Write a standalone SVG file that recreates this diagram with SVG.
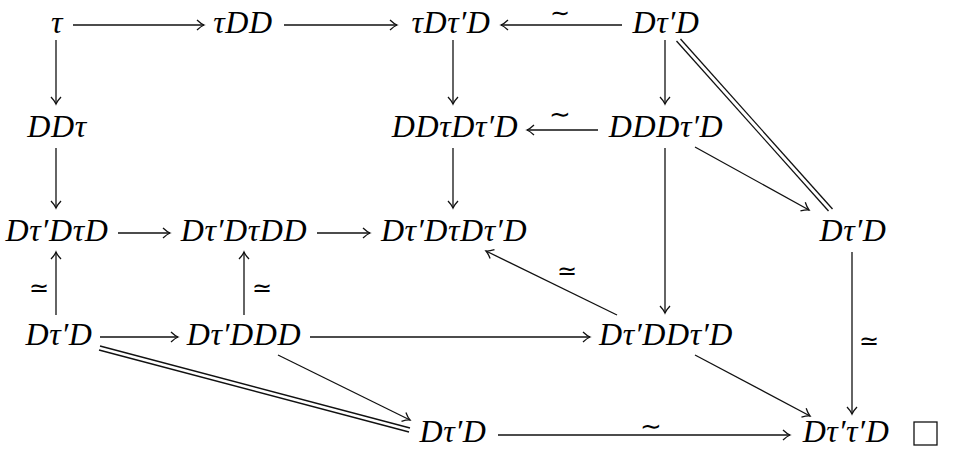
<svg xmlns="http://www.w3.org/2000/svg" width="953" height="457" viewBox="0 0 953 457">
<style>
text{font-family:"Liberation Serif","Times New Roman",serif;font-style:italic;font-size:32px;letter-spacing:0.6px;fill:#000;text-anchor:middle}
text.lab{font-style:normal;font-size:24px;letter-spacing:0}
text.til{font-size:26px}
.c line{stroke:#111;stroke-width:1.3;fill:none}
.c line.a{marker-end:url(#h)}
</style>
<defs>
<marker id="h" markerUnits="userSpaceOnUse" markerWidth="14" markerHeight="14" viewBox="-10 -7 12 14" refX="0" refY="0" orient="auto">
<path d="M-7,-5 Q-3,-1.2 0,0 Q-3,1.2 -7,5" fill="none" stroke="#111" stroke-width="1.3"/>
</marker>
</defs>
<rect width="953" height="457" fill="#fff"/>
<g id="n_tau"><text x="57" y="33">τ</text></g>
<g id="n_tauDD"><text x="243" y="33">τDD</text></g>
<g id="n_tauDtauD"><text x="451" y="33">τDτ′D</text></g>
<g id="n_Dt1"><text x="666" y="33">Dτ′D</text></g>
<g id="n_DDtau"><text x="57" y="137">DDτ</text></g>
<g id="n_DDtDtD"><text x="455" y="137">DDτDτ′D</text></g>
<g id="n_DDDtD"><text x="666" y="137">DDDτ′D</text></g>
<g id="n_DtDtD"><text x="57" y="241">Dτ′DτD</text></g>
<g id="n_DtDtDD"><text x="244" y="241">Dτ′DτDD</text></g>
<g id="n_DtDtDtD"><text x="454" y="241">Dτ′DτDτ′D</text></g>
<g id="n_Dt3"><text x="853" y="241">Dτ′D</text></g>
<g id="n_Dt4"><text x="59" y="345">Dτ′D</text></g>
<g id="n_DtDDD"><text x="244" y="345">Dτ′DDD</text></g>
<g id="n_DtDDtD"><text x="666" y="345">Dτ′DDτ′D</text></g>
<g id="n_Dt5"><text x="453" y="442">Dτ′D</text></g>
<g id="n_Dttd"><text x="846" y="442">Dτ′τ′D</text></g>
<g id="qed"><rect x="914" y="422" width="23" height="23" fill="none" stroke="#111" stroke-width="1.3"/></g>
<g id="connectors" class="c">
<line class="a" x1="73" y1="25" x2="204" y2="25"/>
<line class="a" x1="284" y1="25" x2="397" y2="25"/>
<line class="a" x1="622" y1="25" x2="501" y2="25"/>
<line class="a" x1="598" y1="130" x2="527" y2="130"/>
<line class="a" x1="118" y1="233" x2="170" y2="233"/>
<line class="a" x1="317" y1="233" x2="370" y2="233"/>
<line class="a" x1="100" y1="337" x2="178" y2="337"/>
<line class="a" x1="310" y1="337" x2="590" y2="337"/>
<line class="a" x1="498" y1="435" x2="790" y2="435"/>
<line class="a" x1="56" y1="40" x2="56" y2="104"/>
<line class="a" x1="56" y1="148" x2="56" y2="208"/>
<line class="a" x1="453" y1="40" x2="453" y2="104"/>
<line class="a" x1="453" y1="148" x2="453" y2="208"/>
<line class="a" x1="665" y1="40" x2="665" y2="104"/>
<line class="a" x1="665" y1="148" x2="665" y2="313"/>
<line class="a" x1="56" y1="315" x2="56" y2="252"/>
<line class="a" x1="244" y1="315" x2="244" y2="252"/>
<line class="a" x1="617" y1="315" x2="486" y2="251"/>
<line class="a" x1="695" y1="147" x2="809" y2="210"/>
<line class="a" x1="852" y1="252" x2="852" y2="414"/>
<line class="a" x1="695" y1="355" x2="810" y2="416"/>
<line class="a" x1="278" y1="355" x2="410" y2="420"/>
<line x1="676.5" y1="41" x2="828.5" y2="211"/>
<line x1="680.5" y1="39" x2="832.5" y2="209"/>
<line x1="100" y1="346" x2="410" y2="428"/>
<line x1="99" y1="350" x2="409" y2="432"/>
</g>
<g id="labels">
<text class="lab" x="560" y="21">∼</text>
<text class="lab til" x="560" y="123">∼</text>
<text class="lab til" x="651" y="435">∼</text>
<text class="lab" x="39" y="296">≃</text>
<text class="lab" x="262" y="296">≃</text>
<text class="lab" x="567" y="279">≃</text>
<text class="lab" x="869" y="349">≃</text>
</g>
</svg>
